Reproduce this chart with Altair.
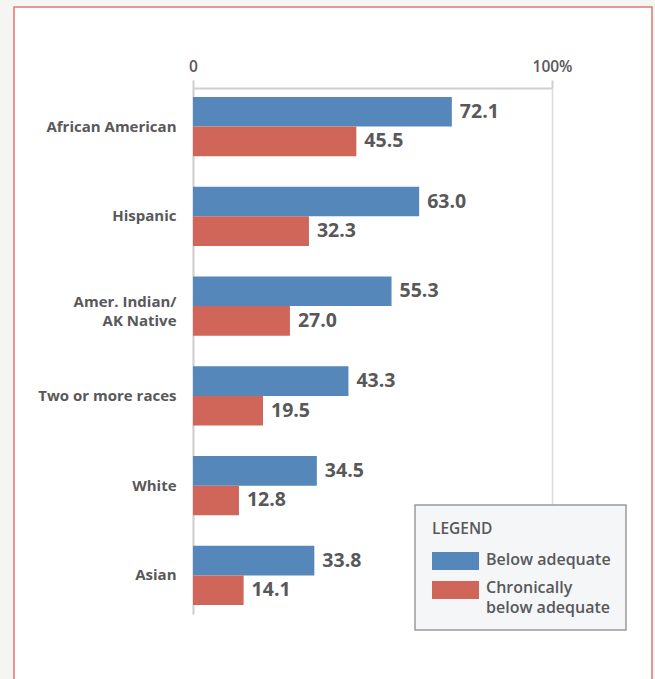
import altair as alt
import pandas as pd

categories = ["African American", "Hispanic", "Amer. Indian/AK Native",
              "Two or more races", "White", "Asian"]
series = ["Below adequate", "Chronically below adequate"]
below_adequate = [72.1, 63.0, 55.3, 43.3, 34.5, 33.8]
chronically_below = [45.5, 32.3, 27.0, 19.5, 12.8, 14.1]
colors = ["#5587ba", "#d06659"]
x_ticks = [0, 100]

rows = []
for c, a, b in zip(categories, below_adequate, chronically_below):
    rows.append({"group": c, "series": series[0], "value": a})
    rows.append({"group": c, "series": series[1], "value": b})
df = pd.DataFrame(rows)

FONT = "Open Sans"
GRAY = "#58585a"
OUTSIDE = "#f5f5f3"

y_enc = alt.Y("group:N", sort=categories, title=None,
              scale=alt.Scale(paddingInner=0.34, paddingOuter=0.1),
              axis=alt.Axis(domain=True, domainColor="#cfcfcf", domainWidth=2,
                            ticks=False, grid=False,
                            labelFont=FONT, labelFontSize=15, labelFontWeight="bold",
                            labelColor=GRAY, labelPadding=17, labelLineHeight=18.5,
                            labelLimit=200,
                            labelOffset={"condition": {"test": "datum.value == 'Amer. Indian/AK Native'",
                                                       "value": -4}, "value": 0},
                            labelExpr="datum.label == 'Amer. Indian/AK Native' ? ['Amer. Indian/', 'AK Native'] : datum.label"))
yoff_enc = alt.YOffset("series:N", sort=series, scale=alt.Scale(domain=series, paddingInner=0, paddingOuter=0))
x_enc = alt.X("value:Q", title=None,
              scale=alt.Scale(domain=[0, 100], nice=False),
              axis=alt.Axis(orient="top", values=x_ticks, grid=True, gridColor="#dcdcdc",
                            gridWidth=1.5,
                            domainColor="#cfcfcf", domainWidth=2, tickColor="#cfcfcf",
                            tickWidth=2, tickSize=8, labelFlush=False,
                            labelFont=FONT, labelFontSize=15.5, labelFontWeight=600,
                            labelColor=GRAY, labelPadding=6,
                            labelExpr="datum.value == 100 ? '100%' : datum.label"))
color_enc = alt.Color("series:N", scale=alt.Scale(domain=series, range=colors), legend=None)

base = alt.Chart(df)

bars = base.mark_bar().encode(y=y_enc, yOffset=yoff_enc, x=x_enc, color=color_enc)
labels = base.mark_text(align="left", baseline="middle", dx=8, font=FONT,
                        fontSize=19.5, fontWeight="bold", color=GRAY).encode(
    y=alt.Y("group:N", sort=categories), yOffset=yoff_enc, x="value:Q",
    text=alt.Text("value:Q", format=".1f"))

one = pd.DataFrame({"k": [0]})
# grey page margins outside the framed panel
left_strip = alt.Chart(one).mark_rect(fill=OUTSIDE).encode(
    x=alt.value(-193), x2=alt.value(-179), y=alt.value(-88), y2=alt.value(591))
right_strip = alt.Chart(one).mark_rect(fill=OUTSIDE).encode(
    x=alt.value(459), x2=alt.value(462), y=alt.value(-88), y2=alt.value(591))
top_strip = alt.Chart(one).mark_rect(fill=OUTSIDE).encode(
    x=alt.value(-193), x2=alt.value(462), y=alt.value(-88), y2=alt.value(-81))
frame = alt.Chart(one).mark_rect(fill=None, stroke="#e2786d", strokeWidth=1.5).encode(
    x=alt.value(-179), x2=alt.value(459), y=alt.value(-81), y2=alt.value(610))

leg_box = alt.Chart(one).mark_rect(fill="#f5f6f8", stroke="#9a9a9a", strokeWidth=1.5).encode(
    x=alt.value(222), x2=alt.value(433), y=alt.value(417), y2=alt.value(542))
leg_title = alt.Chart(one).mark_text(text="LEGEND", align="left", baseline="alphabetic",
                                     font=FONT, fontSize=15.5, fontWeight=600, color=GRAY).encode(
    x=alt.value(239), y=alt.value(446))
sw1 = alt.Chart(one).mark_rect(fill=colors[0]).encode(
    x=alt.value(239), x2=alt.value(286), y=alt.value(464), y2=alt.value(482))
sw2 = alt.Chart(one).mark_rect(fill=colors[1]).encode(
    x=alt.value(239), x2=alt.value(286), y=alt.value(493), y2=alt.value(511))
lab1 = alt.Chart(one).mark_text(text=series[0], align="left", baseline="alphabetic",
                                font=FONT, fontSize=16, fontWeight=600, color=GRAY).encode(
    x=alt.value(293), y=alt.value(477))
words = series[1].split(" ", 1)
lab2 = alt.Chart(one).mark_text(text=[words[0], words[1]], align="left", baseline="alphabetic",
                                lineHeight=20,
                                font=FONT, fontSize=16, fontWeight=600, color=GRAY).encode(
    x=alt.value(293), y=alt.value(505))

chart = alt.layer(left_strip, right_strip, top_strip, frame, bars, labels,
                  leg_box, leg_title, sw1, sw2, lab1, lab2).properties(
    width=359, height=526,
    autosize=alt.AutoSizeParams(type="none"),
    padding={"left": 193, "top": 88, "right": 103, "bottom": 65},
    background="white",
).configure_view(stroke=None)

chart.save("out.html", embed_options={"renderer": "svg", "actions": False})
